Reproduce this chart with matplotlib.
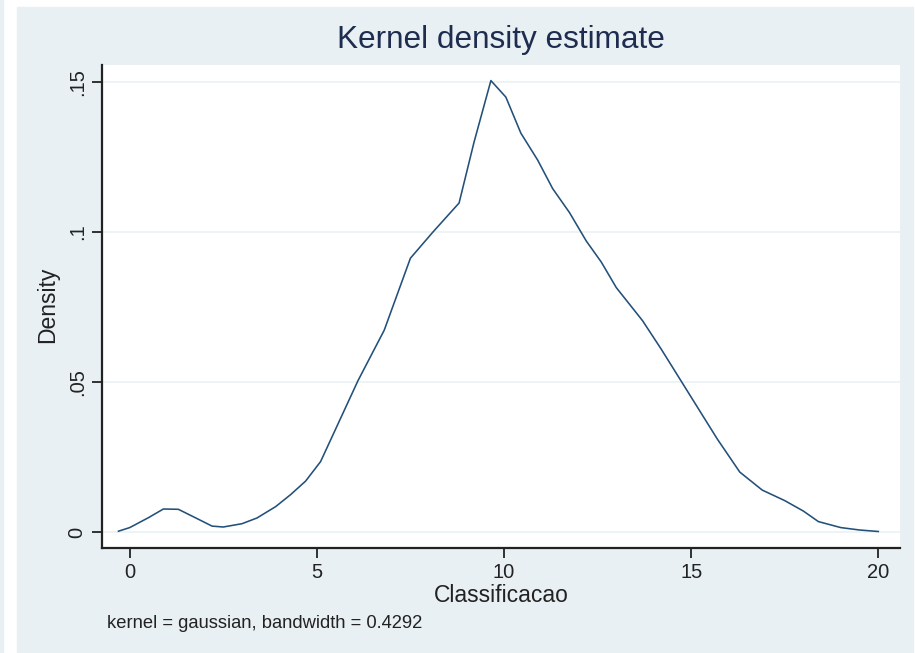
import matplotlib
matplotlib.use('Agg')
import matplotlib.pyplot as plt
from matplotlib.patches import Rectangle

# kernel density of Classificacao
classificacao = [-0.3, 0.0, 0.5, 0.9, 1.3, 1.8, 2.2, 2.5, 3.0, 3.4, 3.9, 4.3,
                 4.7, 5.1, 5.6, 6.1, 6.8, 7.5, 8.1, 8.8, 9.2, 9.65, 10.05,
                 10.45, 10.9, 11.3, 11.75, 12.2, 12.6, 13.0, 13.7, 14.2, 14.6,
                 15.1, 15.7, 16.3, 16.9, 17.5, 18.0, 18.4, 19.0, 19.5, 20.0]
density = [0.0003, 0.0015, 0.0048, 0.0077, 0.0076, 0.0045, 0.0020, 0.0017,
           0.0028, 0.0047, 0.0085, 0.0125, 0.0170, 0.0235, 0.0370, 0.0505,
           0.0673, 0.0913, 0.1000, 0.1097, 0.1300, 0.1505, 0.1450, 0.1330,
           0.1240, 0.1145, 0.1065, 0.0970, 0.0900, 0.0815, 0.0705, 0.0610,
           0.0530, 0.0430, 0.0310, 0.0200, 0.0140, 0.0105, 0.0070, 0.0035,
           0.0015, 0.0007, 0.0002]

x_ticks = [0, 5, 10, 15, 20]
y_ticks = [0, 0.05, 0.1, 0.15]
y_tick_labels = ['0', '.05', '.1', '.15']

title = 'Kernel density estimate'
x_label = 'Classificacao'
y_label = 'Density'
note = 'kernel = gaussian, bandwidth = 0.4292'

W, H = 915, 653
panel_color = '#E8F0F3'
line_color = '#22507A'
text_color = '#222222'

plt.rcParams['font.family'] = ['Liberation Sans', 'DejaVu Sans']

fig = plt.figure(figsize=(W / 100, H / 100), dpi=100)
fig.patch.set_facecolor('white')

# stata graph region (light bluish gray) and the thin strip on the far left
fig.add_artist(Rectangle((17 / W, 0), (913 - 17) / W, (H - 7) / H,
                         transform=fig.transFigure, color=panel_color,
                         zorder=-10))
fig.add_artist(Rectangle((0, 0), 3 / W, 1, transform=fig.transFigure,
                         color=panel_color, zorder=-10))

# plot region in pixels: x 102..900, y 65..548
ax = fig.add_axes([102 / W, 1 - 548 / H, (900 - 102) / W, (548 - 65) / H])
ax.set_facecolor('white')
ax.set_zorder(1)

ax.plot(classificacao, density, color=line_color, linewidth=1.15)

ax.set_xlim(-0.74, 20.58)
ax.set_ylim(-0.0053, 0.1557)

ax.set_xticks(x_ticks)
ax.set_yticks(y_ticks)
ax.set_yticklabels(y_tick_labels, rotation=90, va='center')
ax.tick_params(axis='both', length=7, width=1.3, color='#222222',
               labelsize=14.5, labelcolor=text_color)
ax.tick_params(axis='x', pad=4)
ax.tick_params(axis='y', pad=4)

ax.grid(axis='y', color='#EAF2F3', linewidth=1.2)
ax.set_axisbelow(True)

for side in ['top', 'right']:
    ax.spines[side].set_visible(False)
for side in ['left', 'bottom']:
    ax.spines[side].set_color('#222222')
    ax.spines[side].set_linewidth(1.6)

# titles and notes placed in pixel positions like the stata layout
fig.text(501 / W, 1 - 40 / H, title, ha='center', va='center',
         fontsize=22.7, color='#1E2D4F')
fig.text(501 / W, 1 - 595 / H, x_label, ha='center', va='center',
         fontsize=16.5, color=text_color)
fig.text(48 / W, 1 - 305 / H, y_label, ha='center', va='center',
         rotation=90, fontsize=16.5, color=text_color)
fig.text(107 / W, 1 - 624 / H, note, ha='left', va='center',
         fontsize=13.2, color=text_color)

fig.savefig('out.png', dpi=100)
